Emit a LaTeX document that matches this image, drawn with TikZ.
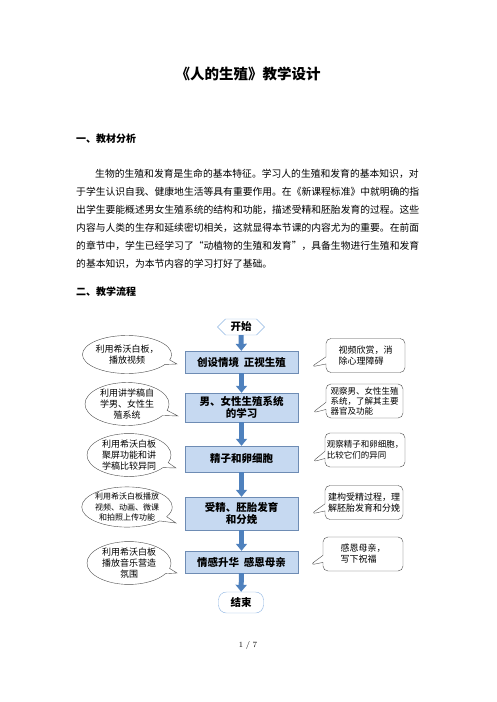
\documentclass[tikz,border=0pt]{standalone}
\usepackage{fontspec}
\newfontfamily\cjk{Noto Sans CJK SC}
\usetikzlibrary{shapes.callouts,shapes.symbols,arrows.meta}
\definecolor{boxfill}{RGB}{198,217,241}
\definecolor{boxline}{RGB}{110,140,180}
\definecolor{arrowblue}{RGB}{79,129,189}
\definecolor{termline}{RGB}{141,180,226}

\begin{document}
\begin{tikzpicture}[x=1pt,y=-1pt,
  bodyline/.style={anchor=west, inner sep=0pt, font=\cjk\fontsize{9.8}{12}\selectfont},
  heading/.style={anchor=west, inner sep=0pt, font=\cjk\bfseries\fontsize{10}{12}\selectfont},
  flowbox/.style={draw=boxline, fill=boxfill, minimum width=113pt, inner sep=0pt, align=center,
    font=\cjk\bfseries\fontsize{10.5}{12.5}\selectfont},
  terminal/.style={draw=termline, fill=white, inner sep=0pt, font=\cjk\bfseries\fontsize{10.5}{12}\selectfont},
  flowarrow/.style={draw=arrowblue, line width=5pt, -{Triangle[width=11pt,length=7pt]}},
  lbubble/.style={ellipse callout, draw=black!70, fill=white, thin, inner sep=0pt,
    minimum width=84pt, minimum height=38pt, align=center, font=\cjk\fontsize{9}{11}\selectfont},
  rbubble/.style={rectangle callout, rounded corners=5pt, draw=black!70, fill=white, thin,
    inner sep=0pt, minimum width=79pt, minimum height=34pt, align=left, font=\cjk\fontsize{9}{11}\selectfont}]
  \useasboundingbox (0,0) rectangle (496,702);
  % title and text
  \node[inner sep=0pt, font=\cjk\bfseries\fontsize{14.5}{17}\selectfont] at (248,74) (title) {《人的生殖》教学设计};
  \node[heading] at (76,139) (head1) {一、教材分析};
  \node[bodyline] at (95,174) (line1) {生物的生殖和发育是生命的基本特征。学习人的生殖和发育的基本知识，对};
  \node[bodyline] at (76,192) (line2) {于学生认识自我、健康地生活等具有重要作用。在《新课程标准》中就明确的指};
  \node[bodyline] at (76,209.5) (line3) {出学生要能概述男女生殖系统的结构和功能，描述受精和胚胎发育的过程。这些};
  \node[bodyline] at (76,227.5) (line4) {内容与人类的生存和延续密切相关，这就显得本节课的内容尤为的重要。在前面};
  \node[bodyline] at (76,245.5) (line5) {的章节中，学生已经学习了\makebox[9.8pt][r]{“}动植物的生殖和发育\makebox[9.8pt][l]{”}，具备生物进行生殖和发育};
  \node[bodyline] at (76,263.5) (line6) {的基本知识，为本节内容的学习打好了基础。};
  \node[heading] at (76,292) (head2) {二、教学流程};
  % flow chart
  \node[terminal, signal, signal to=east and west, minimum width=47pt, minimum height=16pt] at (241,327) (start) {开始};
  \node[flowbox, minimum height=22pt] at (241.5,362) (b1) {创设情境\ \ 正视生殖};
  \node[flowbox, minimum height=29pt] at (241.5,407.5) (b2) {男、女性生殖系统\\的学习};
  \node[flowbox, minimum height=26pt] at (241.5,459) (b3) {精子和卵细胞};
  \node[flowbox, minimum height=33pt] at (241.5,513.5) (b4) {受精、胚胎发育\\和分娩};
  \node[flowbox, minimum height=22pt] at (241.5,562) (b5) {情感升华\ \ 感恩母亲};
  \node[terminal, rounded corners=8pt, minimum width=45pt, minimum height=21pt] at (241,602.5) (end) {结束};
  \foreach \x/\y in {start/b1,b1/b2,b2/b3,b3/b4,b4/b5,b5/end} \draw[flowarrow] (\x) -- (\y);
  % left bubbles
  \node[lbubble, callout absolute pointer={(177,364)}] at (127,354.5) (l1) {利用希沃白板，\\播放视频};
  \node[lbubble, minimum height=41pt, callout absolute pointer={(178,416)}] at (127,404) (l2) {利用讲学稿自\\学男、女性生\\殖系统};
  \node[lbubble, callout absolute pointer={(176,468)}] at (129,455) (l3) {利用希沃白板\\聚屏功能和讲\\学稿比较异同};
  \node[lbubble, minimum width=88pt, minimum height=40pt, font=\cjk\fontsize{8}{10.5}\selectfont,
    callout absolute pointer={(176,523)}] at (127,507) (l4) {利用希沃白板播放\\视频、动画、微课\\和拍照上传功能};
  \node[lbubble, minimum height=40pt, callout absolute pointer={(177,573)}] at (129,563) (l5) {利用希沃白板\\播放音乐营造\\氛围};
  % right bubbles
  \node[rbubble, callout absolute pointer={(311,367)}] at (365.5,355.5) (r1) {视频欣赏，消\\除心理障碍};
  \node[rbubble, minimum width=77pt, font=\cjk\fontsize{8.5}{10}\selectfont,
    callout absolute pointer={(312,413)}] at (364.5,401) (r2) {观察男、女性生殖\\系统，了解其主要\\器官及功能};
  \node[rbubble, minimum width=80pt, font=\cjk\fontsize{8.5}{11}\selectfont,
    callout absolute pointer={(312,462)}] at (365,450) (r3) {观察精子和卵细胞，\\比较它们的异同};
  \node[rbubble, minimum width=78pt, callout absolute pointer={(311,514)}] at (364,502.5) (r4) {建构受精过程，理\\解胚胎发育和分娩};
  \node[rbubble, minimum width=80pt, callout absolute pointer={(310,565)}] at (363,554) (r5) {感恩母亲，\\写下祝福};
  % page number
  \node[inner sep=0pt, font=\fontsize{8}{10}\selectfont] at (248,645) (page) {1 / 7};
\end{tikzpicture}
\end{document}
